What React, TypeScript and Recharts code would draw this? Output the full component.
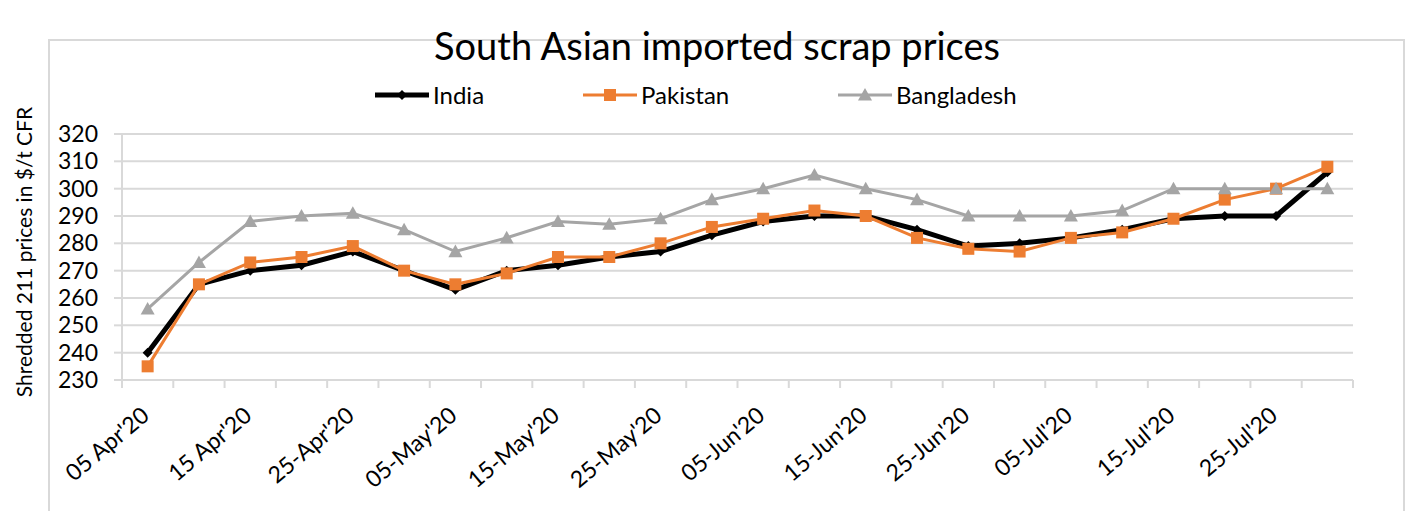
import { CartesianGrid, Line, LineChart, XAxis, YAxis } from 'recharts';

const categories = [
  "05 Apr'20", "10 Apr'20", "15 Apr'20", "20 Apr'20", "25-Apr'20", "30-Apr'20",
  "05-May'20", "10-May'20", "15-May'20", "20-May'20", "25-May'20", "30-May'20",
  "05-Jun'20", "10-Jun'20", "15-Jun'20", "20-Jun'20", "25-Jun'20", "30-Jun'20",
  "05-Jul'20", "10-Jul'20", "15-Jul'20", "20-Jul'20", "25-Jul'20", "30-Jul'20"
];
const india = [240, 265, 270, 272, 277, 270, 263, 270, 272, 275, 277, 283, 288, 290, 290, 285, 279, 280, 282, 285, 289, 290, 290, 306];
const pakistan = [235, 265, 273, 275, 279, 270, 265, 269, 275, 275, 280, 286, 289, 292, 290, 282, 278, 277, 282, 284, 289, 296, 300, 308];
const bangladesh = [256, 273, 288, 290, 291, 285, 277, 282, 288, 287, 289, 296, 300, 305, 300, 296, 290, 290, 290, 292, 300, 300, 300, 300];
const yTicks = [230, 240, 250, 260, 270, 280, 290, 300, 310, 320];

const FONT = 'Lato, "Open Sans", sans-serif';
const GRID = '#d9d9d9';
const W = 1409;
const H = 511;
const MARGIN = { top: 134, right: 56, bottom: 31, left: 52 };
const Y_AXIS_W = 70;
const PLOT_W = W - MARGIN.left - MARGIN.right - Y_AXIS_W;
const STEP = PLOT_W / categories.length;

const rows = categories.map((date, i) => ({
  date,
  India: india[i],
  Pakistan: pakistan[i],
  Bangladesh: bangladesh[i]
}));

type DotProps = { cx?: number; cy?: number; index?: number };

function diamond(cx: number, cy: number, r: number) {
  return `M${cx},${cy - r}L${cx + r},${cy}L${cx},${cy + r}L${cx - r},${cy}Z`;
}
function triangle(cx: number, cy: number, r: number) {
  return `M${cx},${cy - r}L${cx + r},${cy + r * 0.8}L${cx - r},${cy + r * 0.8}Z`;
}

const series = [
  { key: 'India', color: '#000000', width: 5, marker: 'diamond' },
  { key: 'Pakistan', color: '#ed7d31', width: 3, marker: 'square' },
  { key: 'Bangladesh', color: '#a5a5a5', width: 3, marker: 'triangle' }
];

function Marker({ type, cx, cy, color }: { type: string; cx: number; cy: number; color: string }) {
  if (type === 'diamond') return <path d={diamond(cx, cy, 5)} fill={color} />;
  if (type === 'square') return <rect x={cx - 6} y={cy - 6} width={12} height={12} fill={color} />;
  return <path d={triangle(cx, cy, 7)} fill={color} />;
}

function makeDot(type: string, color: string) {
  return (props: DotProps) => {
    const { cx, cy, index } = props;
    if (cx == null || cy == null) return <g key={`${type}-${index}`} />;
    return (
      <g key={`${type}-${index}`}>
        <Marker type={type} cx={cx} cy={cy} color={color} />
      </g>
    );
  };
}

// Excel-style axis: tick marks sit between categories, labels on every other one
function DateTick(props: any) {
  const { x, y, payload } = props;
  const i = payload.index as number;
  return (
    <g>
      <line x1={x - STEP / 2} x2={x - STEP / 2} y1={y} y2={y + 8} stroke={GRID} strokeWidth={2} />
      {i === categories.length - 1 && (
        <line x1={x + STEP / 2} x2={x + STEP / 2} y1={y} y2={y + 8} stroke={GRID} strokeWidth={2} />
      )}
      {i % 2 === 0 && (
        <text
          transform={`translate(${x + 3},${y + 38}) rotate(-40)`}
          textAnchor="end"
          fontFamily={FONT}
          fontSize={23}
          fill="#000"
        >
          {payload.value}
        </text>
      )}
    </g>
  );
}

function LegendItem({ s }: { s: (typeof series)[number] }) {
  return (
    <span style={{ display: 'inline-flex', alignItems: 'center' }}>
      <svg width={58} height={20}>
        <line x1={2} x2={56} y1={10} y2={10} stroke={s.color} strokeWidth={s.width} />
        <Marker type={s.marker} cx={29} cy={10} color={s.color} />
      </svg>
      <span style={{ marginLeft: 2 }}>{s.key}</span>
    </span>
  );
}

const legendLeft = [373, 581, 836];

export default function App() {
  return (
    <div style={{ position: 'absolute', left: 0, top: 0, width: W, height: H, overflow: 'hidden', background: '#fff', fontFamily: FONT }}>
      <div style={{ position: 'absolute', left: 48, top: 39, width: 1353, height: 500, border: `2px solid ${GRID}` }} />
      <div style={{ position: 'absolute', left: 0, top: 0 }}>
        <LineChart width={W} height={H} data={rows} margin={MARGIN}>
          <CartesianGrid horizontal vertical={false} stroke={GRID} strokeWidth={2} />
          <XAxis
            dataKey="date"
            interval={0}
            height={100}
            padding={{ left: STEP / 2, right: STEP / 2 }}
            tick={<DateTick />}
            tickLine={false}
            tickSize={0}
            tickMargin={0}
            axisLine={{ stroke: GRID, strokeWidth: 2 }}
          />
          <YAxis
            width={Y_AXIS_W}
            domain={[230, 320]}
            ticks={yTicks}
            interval={0}
            tickSize={8}
            tickMargin={16}
            tickLine={{ stroke: GRID, strokeWidth: 2 }}
            axisLine={{ stroke: GRID, strokeWidth: 2 }}
            tick={{ fontSize: 23, fill: '#000', fontFamily: FONT }}
          />
          {series.map((s) => (
            <Line
              key={s.key}
              type="linear"
              dataKey={s.key}
              stroke={s.color}
              strokeWidth={s.width}
              dot={makeDot(s.marker, s.color)}
              activeDot={false}
              isAnimationActive={false}
            />
          ))}
        </LineChart>
      </div>
      <div style={{ position: 'absolute', left: 0, width: 1434, top: 22, textAlign: 'center', fontSize: 38, color: '#000', whiteSpace: 'nowrap' }}>
        South Asian imported scrap prices
      </div>
      {series.map((s, i) => (
        <div key={s.key} style={{ position: 'absolute', left: legendLeft[i], top: 80, fontSize: 24, color: '#000', whiteSpace: 'nowrap' }}>
          <LegendItem s={s} />
        </div>
      ))}
      <div
        style={{
          position: 'absolute',
          left: 23,
          top: 252,
          transform: 'translate(-50%, -50%) rotate(-90deg)',
          fontSize: 21,
          whiteSpace: 'nowrap',
          color: '#000'
        }}
      >
        Shredded 211 prices in $/t CFR
      </div>
    </div>
  );
}
